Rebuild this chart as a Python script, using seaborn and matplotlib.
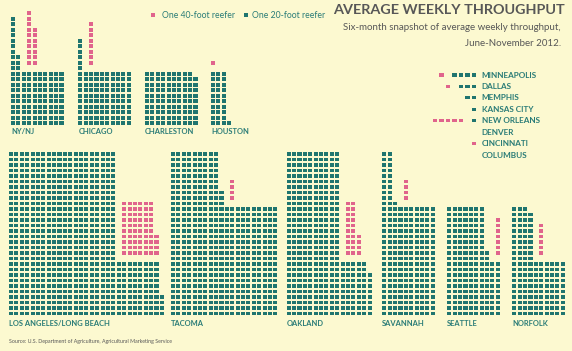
import numpy as np
import pandas as pd
import seaborn as sns
import matplotlib.pyplot as plt

# big ports: teal = 20-foot reefers, pink = 40-foot reefers (one square each)
ports = ['NY/NJ', 'CHICAGO', 'CHARLESTON', 'HOUSTON',
         'LOS ANGELES/LONG BEACH', 'TACOMA', 'OAKLAND', 'SAVANNAH', 'SEATTLE', 'NORFOLK']
teal_base = [100, 100, 99, 31, 284, 400, 158, 200, 100, 100]
teal_tower = [13, 6, 0, 0, 400, 93, 200, 21, 72, 39]
reefer_40 = [17, 8, 0, 1, 64, 4, 24, 4, 7, 6]

# small ports listed on the right
small_ports = ['MINNEAPOLIS', 'DALLAS', 'MEMPHIS', 'KANSAS CITY',
               'NEW ORLEANS', 'DENVER', 'CINCINNATI', 'COLUMBUS']
small_20 = [4, 3, 2, 1, 1, 0, 0, 0]
small_40 = [1, 1, 0, 0, 5, 0, 1, 0]

TEAL = '#1f756f'
PINK = '#e0648c'
BG = '#fcf9d0'
LABEL = '#2a7c77'
GREY = '#575757'

# layout (pixel units): left edge, bottom row, rows per block
panel_left = [11, 78.3, 145, 211, 9, 171, 286.7, 382.3, 447.3, 512.3]
panel_base = [123.2] * 4 + [313.5] * 6
label_y = [131.5] * 4 + [323.6] * 6
base_rows = [10, 10, 10, 10, 10, 20, 10, 20, 10, 10]
tower_rows = [10, 10, 10, 10, 20, 10, 20, 10, 10, 10]
DX, DY = 5.39, 5.5


def fill(n, height, col0=0, row0=0):
    # column by column, bottom up
    k = np.arange(n)
    return col0 + k // height, row0 + k % height


recs = []
for i, name in enumerate(ports):
    parts = []
    c, r = fill(teal_base[i], base_rows[i])
    parts.append(('20', c, r))
    c, r = fill(teal_tower[i], tower_rows[i], 0, base_rows[i])
    parts.append(('20', c, r))
    tcols = int(np.ceil(teal_tower[i] / tower_rows[i]))
    c, r = fill(reefer_40[i], 10, tcols + 1 if tcols else 0, base_rows[i] + 1)
    parts.append(('40', c, r))
    for kind, cc, rr in parts:
        for a, b in zip(cc, rr):
            recs.append({'x': panel_left[i] + 2 + a * DX,
                         'y': panel_base[i] - b * DY, 'kind': kind})

small_recs = []
SX = 6.5
for j, name in enumerate(small_ports):
    y = 75 + j * 11.43
    for k in range(small_20[j]):
        small_recs.append({'x': 474 - k * SX, 'y': y, 'kind': '20'})
    start = 474 - (small_20[j] + 1) * SX if small_20[j] else 474
    for k in range(small_40[j]):
        small_recs.append({'x': start - k * SX, 'y': y, 'kind': '40'})

# legend squares
legend_recs = [{'x': 152.7, 'y': 15, 'kind': '40'}, {'x': 246, 'y': 15, 'kind': '20'}]

df = pd.DataFrame(recs)
df_small = pd.DataFrame(small_recs + legend_recs)

fig = plt.figure(figsize=(5.72, 3.51), dpi=100)
fig.patch.set_facecolor(BG)
ax = fig.add_axes([0, 0, 1, 1])
ax.set_facecolor(BG)

rect = [(-0.5, -0.45), (0.5, -0.45), (0.5, 0.45), (-0.5, 0.45)]
flat = [(-0.5, -0.37), (0.5, -0.37), (0.5, 0.37), (-0.5, 0.37)]
pal = {'20': TEAL, '40': PINK}
sns.scatterplot(data=df, x='x', y='y', hue='kind', palette=pal, marker=rect,
                s=8.6, linewidth=0, legend=False, ax=ax)
sns.scatterplot(data=df_small, x='x', y='y', hue='kind', palette=pal, marker=flat,
                s=8.6, linewidth=0, legend=False, ax=ax)

ax.set_xlim(0, 572)
ax.set_ylim(351, 0)
ax.axis('off')

plt.rcParams['font.family'] = ['Lato', 'DejaVu Sans']

for i, name in enumerate(ports):
    ax.text(panel_left[i], label_y[i], name, fontsize=5.4, fontweight='bold',
            color=LABEL, va='center', ha='left')

for j, name in enumerate(small_ports):
    ax.text(481.5, 75 + j * 11.43, name, fontsize=5.9, fontweight='bold',
            color=LABEL, va='center', ha='left')

ax.text(161.5, 15, 'One 40-foot reefer', fontsize=6.2, color=LABEL, va='center')
ax.text(251.5, 15, 'One 20-foot reefer', fontsize=6.2, color=LABEL, va='center')

ax.text(565, 10.5, 'AVERAGE WEEKLY THROUGHPUT', fontsize=10.4, fontweight='bold',
        color=GREY, ha='right', va='center')
ax.text(561, 28, 'Six-month snapshot of average weekly throughput,', fontsize=7.0,
        color=GREY, ha='right', va='center')
ax.text(561, 43, 'June-November 2012.', fontsize=7.0, color=GREY, ha='right', va='center')

ax.text(9, 341.7, 'Source: U.S. Department of Agriculture, Agricultural Marketing Service',
        fontsize=3.8, color=GREY, va='center')

fig.savefig('out.png', dpi=100, facecolor=BG)
